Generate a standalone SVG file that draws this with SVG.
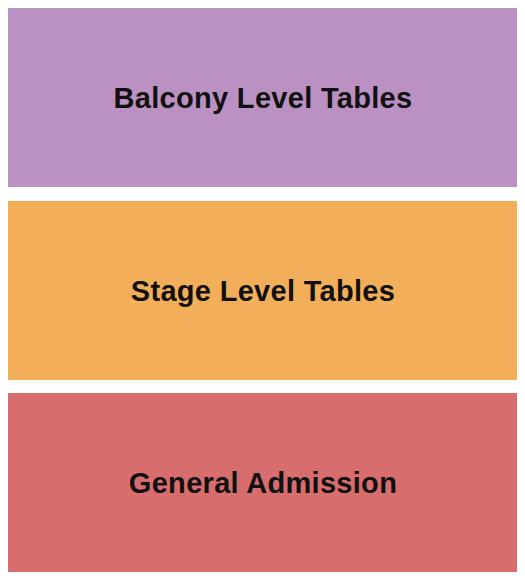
<svg xmlns="http://www.w3.org/2000/svg" width="525" height="580" viewBox="0 0 525 580">
<style>
.lbl{font-family:"Liberation Sans",Arial,sans-serif;font-weight:bold;font-size:29px;letter-spacing:0.3px;fill:#111;text-anchor:middle}
</style>
<rect width="525" height="580" fill="#fff"/>
<g id="balcony"><rect x="8" y="8" width="509" height="179" fill="#BB91C3"/><text class="lbl" x="263" y="107.5">Balcony Level Tables</text></g>
<g id="stage"><rect x="8" y="201" width="509" height="179" fill="#F3AE5A"/><text class="lbl" x="263" y="300.5">Stage Level Tables</text></g>
<g id="ga"><rect x="8" y="393" width="509" height="179" fill="#D86D6E"/><text class="lbl" x="263" y="493">General Admission</text></g>
<g id="connectors"/>
</svg>
